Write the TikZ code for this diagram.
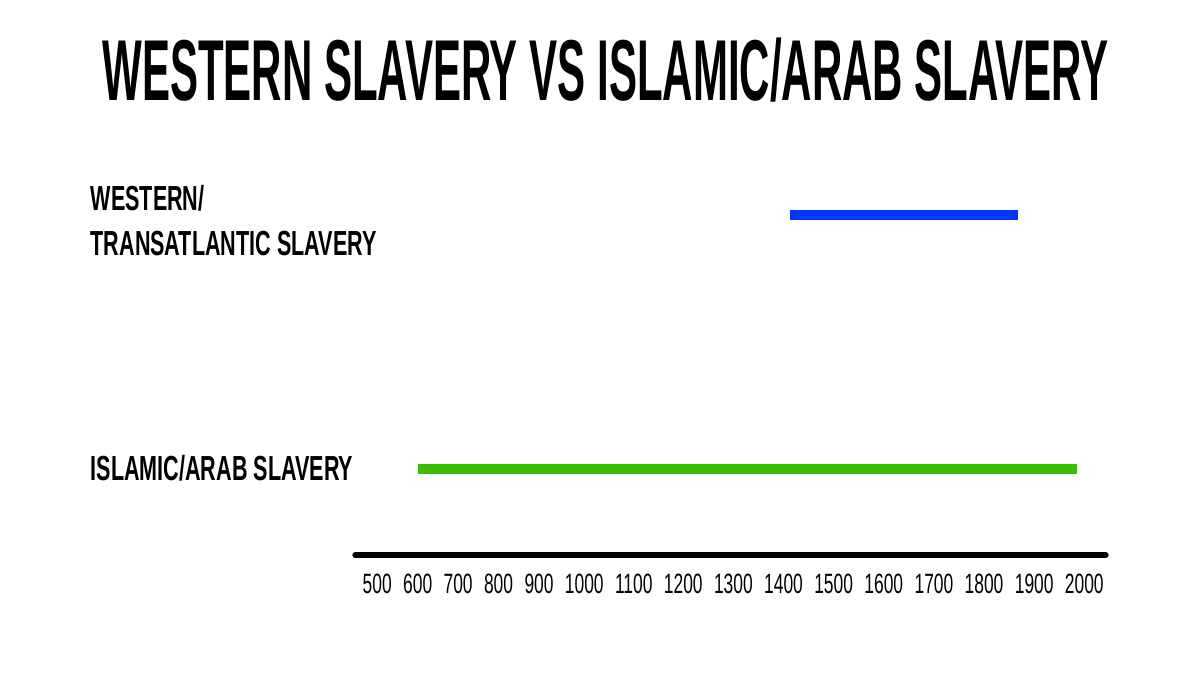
\documentclass[tikz,border=0pt]{standalone}
\usepackage{fontspec}
\setmainfont{Liberation Sans}
\newfontfamily\titlefont[FakeStretch=0.486]{Liberation Sans}
\newfontfamily\labelfont[FakeStretch=0.62]{Liberation Sans}
\newfontfamily\yearfont[FakeStretch=0.623]{Liberation Sans}
\usetikzlibrary{positioning}
\definecolor{westblue}{RGB}{0,54,255}
\definecolor{arabgreen}{RGB}{60,190,0}
\tikzset{
  rowlabel/.style={anchor=base west, inner sep=0, font=\labelfont\bfseries\fontsize{9.9}{12}\selectfont},
  year/.style={inner sep=0, font=\yearfont\fontsize{7.95}{9}\selectfont},
  span/.style={line width=3.1pt},
}
\begin{document}
\begin{tikzpicture}[x=1cm,y=1cm]
\useasboundingbox[fill=white] (0,-6.75) rectangle (12,0);
\node[anchor=base, inner sep=0, font=\titlefont\bfseries\fontsize{24.6}{28}\selectfont] (title) at (6.055,-1.00) {WESTERN SLAVERY VS ISLAMIC/ARAB SLAVERY};
\node[rowlabel] (west1) at (0.90,-2.10) {WESTERN/};
\node[rowlabel] (west2) at (0.90,-2.55) {TRANSATLANTIC SLAVERY};
\node[rowlabel] (arab) at (0.90,-4.80) {ISLAMIC/ARAB SLAVERY};
\coordinate (wstart) at (7.90,-2.15);
\coordinate (wend) at (10.18,-2.15);
\coordinate (astart) at (4.18,-4.69);
\coordinate (aend) at (10.77,-4.69);
\coordinate (axl) at (3.55,-5.55);
\coordinate (axr) at (11.06,-5.55);
\draw[span, westblue] (wstart) -- (wend);
\draw[span, arabgreen] (astart) -- (aend);
\draw[line width=1.5pt, line cap=round] (axl) -- (axr);
\node[year, anchor=base west] (y500) at (3.62,-5.93) {500};
\node[year, right=1mm of y500.base east, anchor=base west] (y600) {600};
\node[year, right=1mm of y600.base east, anchor=base west] (y700) {700};
\node[year, right=1mm of y700.base east, anchor=base west] (y800) {800};
\node[year, right=1mm of y800.base east, anchor=base west] (y900) {900};
\node[year, right=1mm of y900.base east, anchor=base west] (y1000) {1000};
\node[year, right=1mm of y1000.base east, anchor=base west] (y1100) {1100};
\node[year, right=1mm of y1100.base east, anchor=base west] (y1200) {1200};
\node[year, right=1mm of y1200.base east, anchor=base west] (y1300) {1300};
\node[year, right=1mm of y1300.base east, anchor=base west] (y1400) {1400};
\node[year, right=1mm of y1400.base east, anchor=base west] (y1500) {1500};
\node[year, right=1mm of y1500.base east, anchor=base west] (y1600) {1600};
\node[year, right=1mm of y1600.base east, anchor=base west] (y1700) {1700};
\node[year, right=1mm of y1700.base east, anchor=base west] (y1800) {1800};
\node[year, right=1mm of y1800.base east, anchor=base west] (y1900) {1900};
\node[year, right=1mm of y1900.base east, anchor=base west] (y2000) {2000};
\end{tikzpicture}
\end{document}
